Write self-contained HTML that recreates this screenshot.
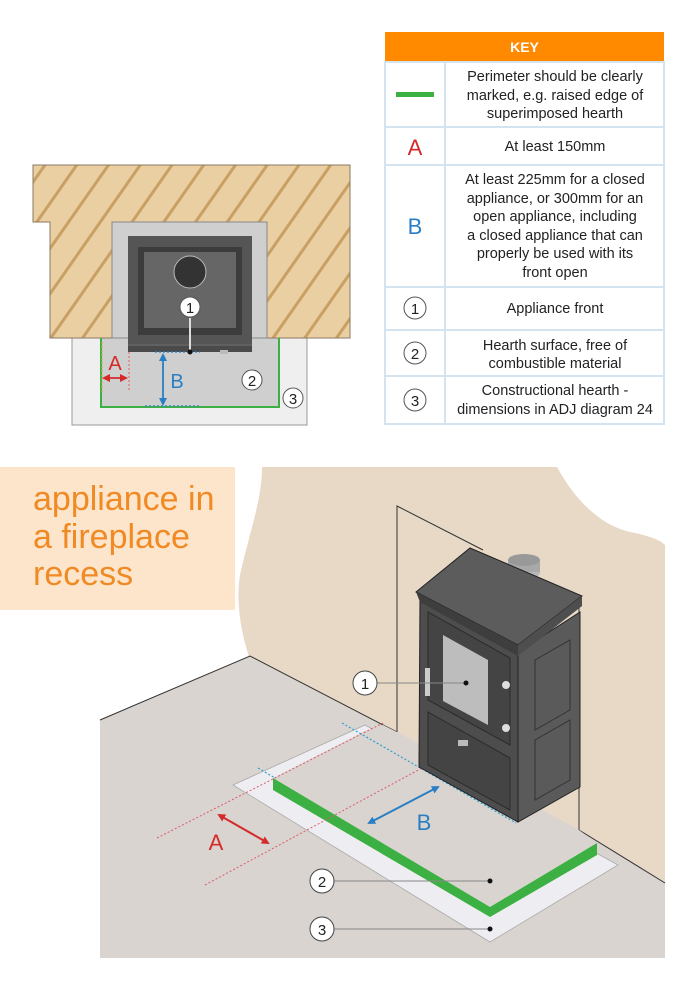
<!DOCTYPE html>
<html><head><meta charset="utf-8"><style>
html,body{margin:0;padding:0;background:#fff;}
svg{display:block;font-family:"Liberation Sans","DejaVu Sans",sans-serif;}
</style></head><body>
<svg width="700" height="991" viewBox="0 0 700 991" xmlns="http://www.w3.org/2000/svg">
<defs>
<pattern id="hatch" patternUnits="userSpaceOnUse" width="26" height="26" patternTransform="rotate(35)">
<rect width="26" height="26" fill="#e9cfa2"/>
<rect x="0" y="0" width="3" height="26" fill="#c9a064"/>
</pattern>
<marker id="ar" markerWidth="8" markerHeight="8" refX="6" refY="4" orient="auto-start-reverse" markerUnits="userSpaceOnUse"><path d="M0,0 L8,4 L0,8 Z" fill="#d42a2a"/></marker>
<marker id="ab" markerWidth="8" markerHeight="8" refX="6" refY="4" orient="auto-start-reverse" markerUnits="userSpaceOnUse"><path d="M0,0 L8,4 L0,8 Z" fill="#2a7fc4"/></marker>
</defs>

<!-- ===== Plan view ===== -->
<rect x="72" y="338" width="235" height="87" fill="#efefef" stroke="#999" stroke-width="1"/>
<rect x="100" y="338" width="180" height="69" fill="#cfcfcf"/>
<path d="M33,165 H350 V338 H267 V222 H112 V338 H50 V222 H33 Z" fill="url(#hatch)" stroke="#8a7a60" stroke-width="1"/>
<rect x="112" y="222" width="155" height="116" fill="#cfcfcf" stroke="#888" stroke-width="1"/>
<rect x="128" y="236" width="124" height="116" fill="#555"/>
<rect x="138" y="247" width="104" height="88" fill="#3c3c3c"/>
<rect x="144" y="252" width="92" height="76" fill="#666"/>
<circle cx="190" cy="272" r="16" fill="#333" stroke="#bbb" stroke-width="1"/>
<rect x="128" y="344" width="124" height="8" fill="#4a4a4a"/>
<line x1="128" y1="345" x2="252" y2="345" stroke="#777" stroke-width="1"/>
<rect x="220" y="350" width="8" height="4" fill="#bbb"/>
<path d="M101,338 V407 H279 V338" fill="none" stroke="#3cb043" stroke-width="2"/>
<line x1="155" y1="352" x2="200" y2="352" stroke="#2a7fc4" stroke-width="1.2" stroke-dasharray="2,2"/>
<line x1="145" y1="406" x2="200" y2="406" stroke="#2a7fc4" stroke-width="1.2" stroke-dasharray="2,2"/>
<line x1="129" y1="352" x2="129" y2="392" stroke="#e06060" stroke-width="1" stroke-dasharray="2,2"/>
<line x1="102" y1="342" x2="102" y2="392" stroke="#e0a040" stroke-width="1" stroke-dasharray="2,2"/>
<line x1="104" y1="378" x2="126" y2="378" stroke="#d42a2a" stroke-width="1.8" marker-start="url(#ar)" marker-end="url(#ar)"/>
<text x="115" y="370" font-size="20" fill="#d42a2a" text-anchor="middle">A</text>
<line x1="163" y1="355" x2="163" y2="404" stroke="#2a7fc4" stroke-width="1.8" marker-start="url(#ab)" marker-end="url(#ab)"/>
<text x="177" y="388" font-size="20" fill="#2a7fc4" text-anchor="middle">B</text>
<line x1="190" y1="318" x2="190" y2="352" stroke="#ddd" stroke-width="2"/>
<circle cx="190" cy="352" r="2.5" fill="#111"/>
<circle cx="190" cy="307" r="10" fill="#fff" stroke="#555" stroke-width="1"/>
<text x="190" y="313" font-size="15" text-anchor="middle" fill="#222">1</text>
<circle cx="252" cy="380" r="10" fill="#fff" stroke="#555" stroke-width="1"/>
<text x="252" y="386" font-size="15" text-anchor="middle" fill="#222">2</text>
<circle cx="293" cy="398" r="10" fill="#fff" stroke="#555" stroke-width="1"/>
<text x="293" y="404" font-size="15" text-anchor="middle" fill="#222">3</text>

<!-- ===== Key table ===== -->
<rect x="385" y="32" width="279" height="30" fill="#ff8a00"/>
<text x="524.5" y="52" font-size="14" font-weight="bold" fill="#fff" text-anchor="middle">KEY</text>
<g fill="none" stroke="#d3e3f0" stroke-width="2">
<rect x="385" y="62" width="279" height="362"/>
<line x1="445" y1="62" x2="445" y2="424"/>
<line x1="385" y1="127" x2="664" y2="127"/>
<line x1="385" y1="165" x2="664" y2="165"/>
<line x1="385" y1="287" x2="664" y2="287"/>
<line x1="385" y1="330" x2="664" y2="330"/>
<line x1="385" y1="376" x2="664" y2="376"/>
</g>
<rect x="396" y="92" width="38" height="5" fill="#3cb043"/>
<text x="415" y="155" font-size="22" fill="#d42a2a" text-anchor="middle">A</text>
<text x="415" y="234" font-size="22" fill="#2a7fc4" text-anchor="middle">B</text>
<g font-size="14.5" fill="#222" text-anchor="middle">
<text x="555" y="81">Perimeter should be clearly</text>
<text x="555" y="100">marked, e.g. raised edge of</text>
<text x="555" y="118">superimposed hearth</text>
<text x="555" y="151">At least 150mm</text>
<text x="555" y="184">At least 225mm for a closed</text>
<text x="555" y="203">appliance, or 300mm for an</text>
<text x="555" y="221">open appliance, including</text>
<text x="555" y="240">a closed appliance that can</text>
<text x="555" y="258">properly be used with its</text>
<text x="555" y="277">front open</text>
<text x="555" y="313">Appliance front</text>
<text x="555" y="350">Hearth surface, free of</text>
<text x="555" y="368">combustible material</text>
<text x="555" y="395">Constructional hearth -</text>
<text x="555" y="414">dimensions in ADJ diagram 24</text>
</g>
<g font-size="15" text-anchor="middle" fill="#222">
<circle cx="415" cy="308" r="11" fill="#fff" stroke="#555"/><text x="415" y="314">1</text>
<circle cx="415" cy="353" r="11" fill="#fff" stroke="#555"/><text x="415" y="359">2</text>
<circle cx="415" cy="400" r="11" fill="#fff" stroke="#555"/><text x="415" y="406">3</text>
</g>

<!-- ===== Perspective scene ===== -->
<path d="M262,467 L557,467 C575,500 600,525 630,532 C650,536 660,540 665,545 L665,910 L250,660 C240,630 236,600 240,575 C250,530 262,500 262,467 Z" fill="#e7d9c6"/>
<path d="M100,720 L250,656 L383,725 L397,732 L579,830 L665,883 L665,958 L100,958 Z" fill="#d9d4cf"/>
<path d="M100,720 L250,656 L383,725 L397,732" fill="none" stroke="#333" stroke-width="1"/>
<path d="M397,732 V506 L483,550" fill="none" stroke="#333" stroke-width="1"/>
<path d="M579,600 V830 L665,883" fill="none" stroke="#333" stroke-width="1"/>
<rect x="0" y="467" width="235" height="143" fill="#fde5cb"/>
<g font-size="34" fill="#f08a24">
<text x="33" y="510">appliance in</text>
<text x="33" y="548">a fireplace</text>
<text x="33" y="585">recess</text>
</g>
<path d="M233,785 L365,725 L618,865 L490,942 Z" fill="#eeedf1" stroke="#aaa" stroke-width="0.8"/>
<path d="M273,778 L365,731 L383,725 L397,732 L579,830 L597,843 L490,907 Z" fill="#d9d4cf"/>
<path d="M273,778 L490,907 L597,843 L597,855 L490,917 L273,790 Z" fill="#3cb043"/>
<line x1="157" y1="838" x2="383" y2="723" stroke="#e05a6a" stroke-width="1" stroke-dasharray="2,2"/>
<line x1="205" y1="885" x2="422" y2="768" stroke="#e05a6a" stroke-width="1" stroke-dasharray="2,2"/>
<line x1="258" y1="768" x2="275" y2="778" stroke="#2a9fd4" stroke-width="1.2" stroke-dasharray="2,2"/>
<line x1="342" y1="723" x2="516" y2="823" stroke="#2a9fd4" stroke-width="1.2" stroke-dasharray="2,2"/>
<!-- stove -->
<ellipse cx="524" cy="572" rx="16" ry="8" fill="#b8b8b8"/>
<rect x="508" y="560" width="32" height="12" fill="#a8a8a8"/>
<ellipse cx="524" cy="560" rx="16" ry="6" fill="#999"/>
<path d="M420,597 L518,652 L518,822 L419,767 Z" fill="#4d4d4d" stroke="#222" stroke-width="1"/>
<path d="M518,652 L580,612 L580,787 L518,822 Z" fill="#5a5a5a" stroke="#222" stroke-width="1"/>
<path d="M416,592 L470,548 L582,596 L518,645 Z" fill="#5c5c5c" stroke="#222" stroke-width="1"/>
<path d="M416,592 L518,645 L518,656 L420,602 Z" fill="#3e3e3e"/>
<path d="M518,645 L582,596 L582,606 L518,656 Z" fill="#4e4e4e"/>
<path d="M428,612 L510,658 L510,745 L428,700 Z" fill="#444" stroke="#2a2a2a"/>
<path d="M443,635 L488,660 L488,725 L443,701 Z" fill="#bdbdbd"/>
<path d="M428,712 L510,758 L510,810 L428,765 Z" fill="#444" stroke="#2a2a2a"/>
<rect x="458" y="740" width="10" height="6" fill="#bbb"/>
<rect x="425" y="668" width="5" height="28" fill="#ccc"/>
<path d="M535,660 L570,640 L570,710 L535,730 Z" fill="none" stroke="#333"/>
<path d="M535,740 L570,720 L570,780 L535,800 Z" fill="none" stroke="#333"/>
<circle cx="506" cy="685" r="4" fill="#ddd"/><circle cx="506" cy="728" r="4" fill="#ddd"/>
<line x1="219" y1="815" x2="268" y2="843" stroke="#d42a2a" stroke-width="2" marker-start="url(#ar)" marker-end="url(#ar)"/>
<text x="216" y="850" font-size="22" fill="#d42a2a" text-anchor="middle">A</text>
<line x1="369" y1="823" x2="438" y2="787" stroke="#2a7fc4" stroke-width="2" marker-start="url(#ab)" marker-end="url(#ab)"/>
<text x="424" y="830" font-size="22" fill="#2a7fc4" text-anchor="middle">B</text>
<g font-size="15" text-anchor="middle" fill="#222">
<line x1="377" y1="683" x2="466" y2="683" stroke="#888" stroke-width="1"/><circle cx="466" cy="683" r="2.5" fill="#111"/>
<circle cx="365" cy="683" r="12" fill="#fff" stroke="#444"/><text x="365" y="689">1</text>
<line x1="334" y1="881" x2="490" y2="881" stroke="#888" stroke-width="1"/><circle cx="490" cy="881" r="2.5" fill="#111"/>
<circle cx="322" cy="881" r="12" fill="#fff" stroke="#444"/><text x="322" y="887">2</text>
<line x1="334" y1="929" x2="490" y2="929" stroke="#888" stroke-width="1"/><circle cx="490" cy="929" r="2.5" fill="#111"/>
<circle cx="322" cy="929" r="12" fill="#fff" stroke="#444"/><text x="322" y="935">3</text>
</g>
</svg>
</body></html>
